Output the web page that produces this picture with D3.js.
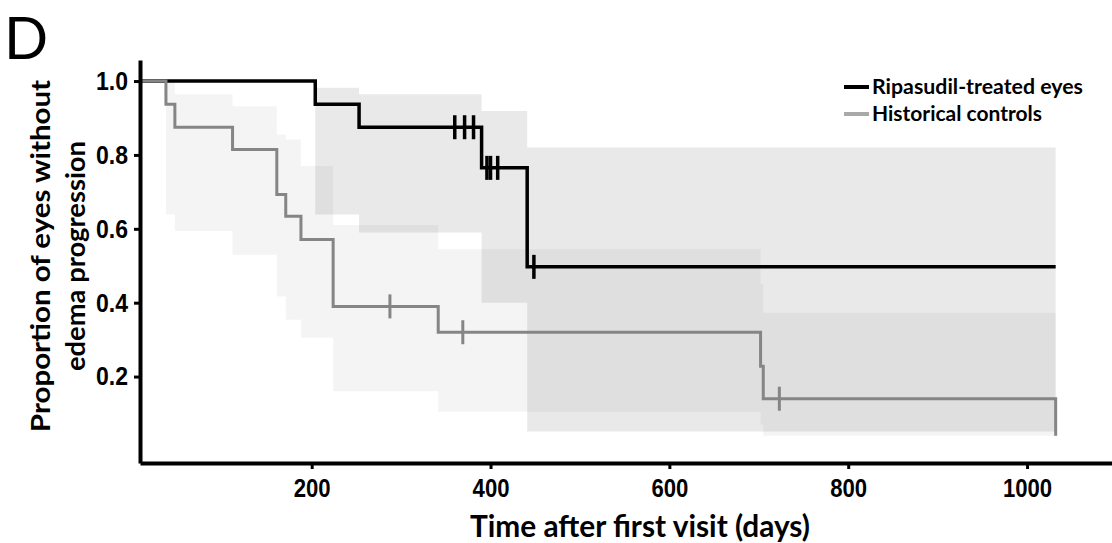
<!DOCTYPE html>
<html>
<head>
<meta charset="utf-8">
<script src="https://cdn.jsdelivr.net/npm/d3@7"></script>
<style>
  body { margin: 0; background: #fff; }
  svg { display: block; }
  .tick-lbl { font-family: 'Liberation Sans', Arial, sans-serif; font-weight: bold; font-size: 26px; fill: #000; }
  .axis-lbl { font-family: Lato, 'Open Sans', sans-serif; font-weight: bold; fill: #000; }
</style>
</head>
<body>
<svg id="chart" width="1112" height="543"></svg>
<script>
// Kaplan-Meier steps: [day, proportion]
var treatedSteps = [[8, 1.0], [204, 0.9375], [253, 0.875], [390, 0.765], [441, 0.497], [1032, 0.497]];
var controlSteps = [[8, 1.0], [37, 0.9375], [47, 0.875], [111.5, 0.815], [161, 0.693], [171, 0.634],
	[188, 0.571], [224, 0.39], [341.5, 0.32], [702, 0.228], [705, 0.14], [1032, 0.04]];

// censored observations
var treatedCensor = [[360, 0.875], [371, 0.875], [381, 0.875], [396, 0.765], [400, 0.765], [408, 0.765], [448.5, 0.497]];
var controlCensor = [[287.5, 0.39], [369, 0.32], [723, 0.14]];

// confidence bands: [day, upper, lower]
var treatedBand = [[204, 0.982, 0.639], [253, 0.964, 0.59], [390, 0.919, 0.40], [441, 0.82, 0.051], [1032, 0.82, 0.051]];
var controlBand = [[37, 1.0, 0.639], [47, 0.964, 0.594], [111.5, 0.932, 0.53], [161, 0.855, 0.417], [171, 0.842, 0.354],
	[188, 0.77, 0.305], [224, 0.61, 0.16], [341.5, 0.545, 0.105], [702, 0.45, 0.07], [705, 0.373, 0.04], [1032, 0.373, 0.04]];

var xTicks = [200, 400, 600, 800, 1000];
var yTicks = [0.2, 0.4, 0.6, 0.8, 1.0];
var seriesNames = ['Ripasudil-treated eyes', 'Historical controls'];

var svg = d3.select('#chart'),
	margin = { top: 60, right: 0, bottom: 80, left: 140 },
	width = +svg.attr('width') - margin.left - margin.right,
	height = +svg.attr('height') - margin.top - margin.bottom,
	g = svg.append('g').attr('transform', 'translate(' + margin.left + ',' + margin.top + ')');

var scaleX = d3.scaleLinear().domain([8, 1095]).range([0, width]);
var scaleY = d3.scaleLinear().domain([-0.034, 1.057]).range([height, 0]);

var line = d3.line()
	.x(function (d) { return scaleX(d[0]); })
	.y(function (d) { return scaleY(d[1]); })
	.curve(d3.curveStepAfter);

var area = d3.area()
	.x(function (d) { return scaleX(d[0]); })
	.y0(function (d) { return scaleY(d[2]); })
	.y1(function (d) { return scaleY(d[1]); })
	.curve(d3.curveStepAfter);

// bands
g.append('path').datum(controlBand).attr('d', area).attr('fill', '#000').attr('fill-opacity', 0.045);
g.append('path').datum(treatedBand).attr('d', area).attr('fill', '#000').attr('fill-opacity', 0.088);

// curves
g.append('path').datum(treatedSteps)
	.attr('d', line)
	.attr('fill', 'none')
	.attr('stroke', '#000')
	.attr('stroke-width', 3.5);

g.append('path').datum(controlSteps)
	.attr('d', line)
	.attr('fill', 'none')
	.attr('stroke', '#858585')
	.attr('stroke-width', 3);

// censor marks
g.selectAll('.cens-t').data(treatedCensor).enter().append('line')
	.attr('x1', function (d) { return scaleX(d[0]); })
	.attr('x2', function (d) { return scaleX(d[0]); })
	.attr('y1', function (d) { return scaleY(d[1]) - 12; })
	.attr('y2', function (d) { return scaleY(d[1]) + 12; })
	.attr('stroke', '#000')
	.attr('stroke-width', 3.5);

g.selectAll('.cens-c').data(controlCensor).enter().append('line')
	.attr('x1', function (d) { return scaleX(d[0]); })
	.attr('x2', function (d) { return scaleX(d[0]); })
	.attr('y1', function (d) { return scaleY(d[1]) - 12; })
	.attr('y2', function (d) { return scaleY(d[1]) + 12; })
	.attr('stroke', '#858585')
	.attr('stroke-width', 3);

// axes
var svg_xAxis = g.append('g')
	.attr('transform', 'translate(0,' + height + ')')
	.call(d3.axisBottom(scaleX).tickValues(xTicks).tickSize(6).tickSizeOuter(0).tickPadding(10).tickFormat(d3.format('d')));

var svg_yAxis = g.append('g')
	.call(d3.axisLeft(scaleY).tickValues(yTicks).tickSize(6).tickSizeOuter(0).tickPadding(6).tickFormat(d3.format('.1f')));

[svg_xAxis, svg_yAxis].forEach(function (ax) {
	ax.select('.domain').attr('stroke', '#000').attr('stroke-width', 4);
	ax.selectAll('.tick line').attr('stroke', '#000').attr('stroke-width', 3);
	ax.selectAll('.tick text').attr('class', 'tick-lbl').attr('font-size', null).attr('font-family', null)
		.attr('lengthAdjust', 'spacingAndGlyphs');
});
svg_xAxis.selectAll('.tick text').attr('textLength', function (d) { return String(d).length * 12.3; });
svg_yAxis.selectAll('.tick text').attr('textLength', 32);

// axis titles
svg.append('text')
	.attr('class', 'axis-lbl')
	.attr('x', 640).attr('y', 537)
	.attr('text-anchor', 'middle')
	.attr('font-size', 31)
	.attr('textLength', 340).attr('lengthAdjust', 'spacingAndGlyphs')
	.text('Time after first visit (days)');

var yTitle = svg.append('text')
	.attr('class', 'axis-lbl')
	.attr('transform', 'translate(0,256) rotate(-90)')
	.attr('text-anchor', 'middle')
	.attr('font-size', 27);
yTitle.append('tspan').attr('x', 0).attr('y', 50)
	.attr('textLength', 352).attr('lengthAdjust', 'spacingAndGlyphs')
	.text('Proportion of eyes without');
yTitle.append('tspan').attr('x', 0).attr('y', 85)
	.attr('textLength', 230).attr('lengthAdjust', 'spacingAndGlyphs')
	.text('edema progression');

// panel letter
svg.append('text')
	.attr('x', 4).attr('y', 59)
	.attr('font-family', 'Lato, sans-serif')
	.attr('font-size', 58)
	.attr('fill', '#000')
	.text('D');

// legend
var legend = svg.append('g').attr('transform', 'translate(844,87)');
var legendColors = ['#000', '#a9a9a9'];
seriesNames.forEach(function (name, i) {
	legend.append('line')
		.attr('x1', 0).attr('x2', 25)
		.attr('y1', i * 27).attr('y2', i * 27)
		.attr('stroke', legendColors[i])
		.attr('stroke-width', 4);
	legend.append('text')
		.attr('class', 'axis-lbl')
		.attr('x', 28).attr('y', i * 27 + 7)
		.attr('font-size', 20)
		.attr('textLength', i === 0 ? 211 : 170).attr('lengthAdjust', 'spacingAndGlyphs')
		.text(name);
});
</script>
</body>
</html>
